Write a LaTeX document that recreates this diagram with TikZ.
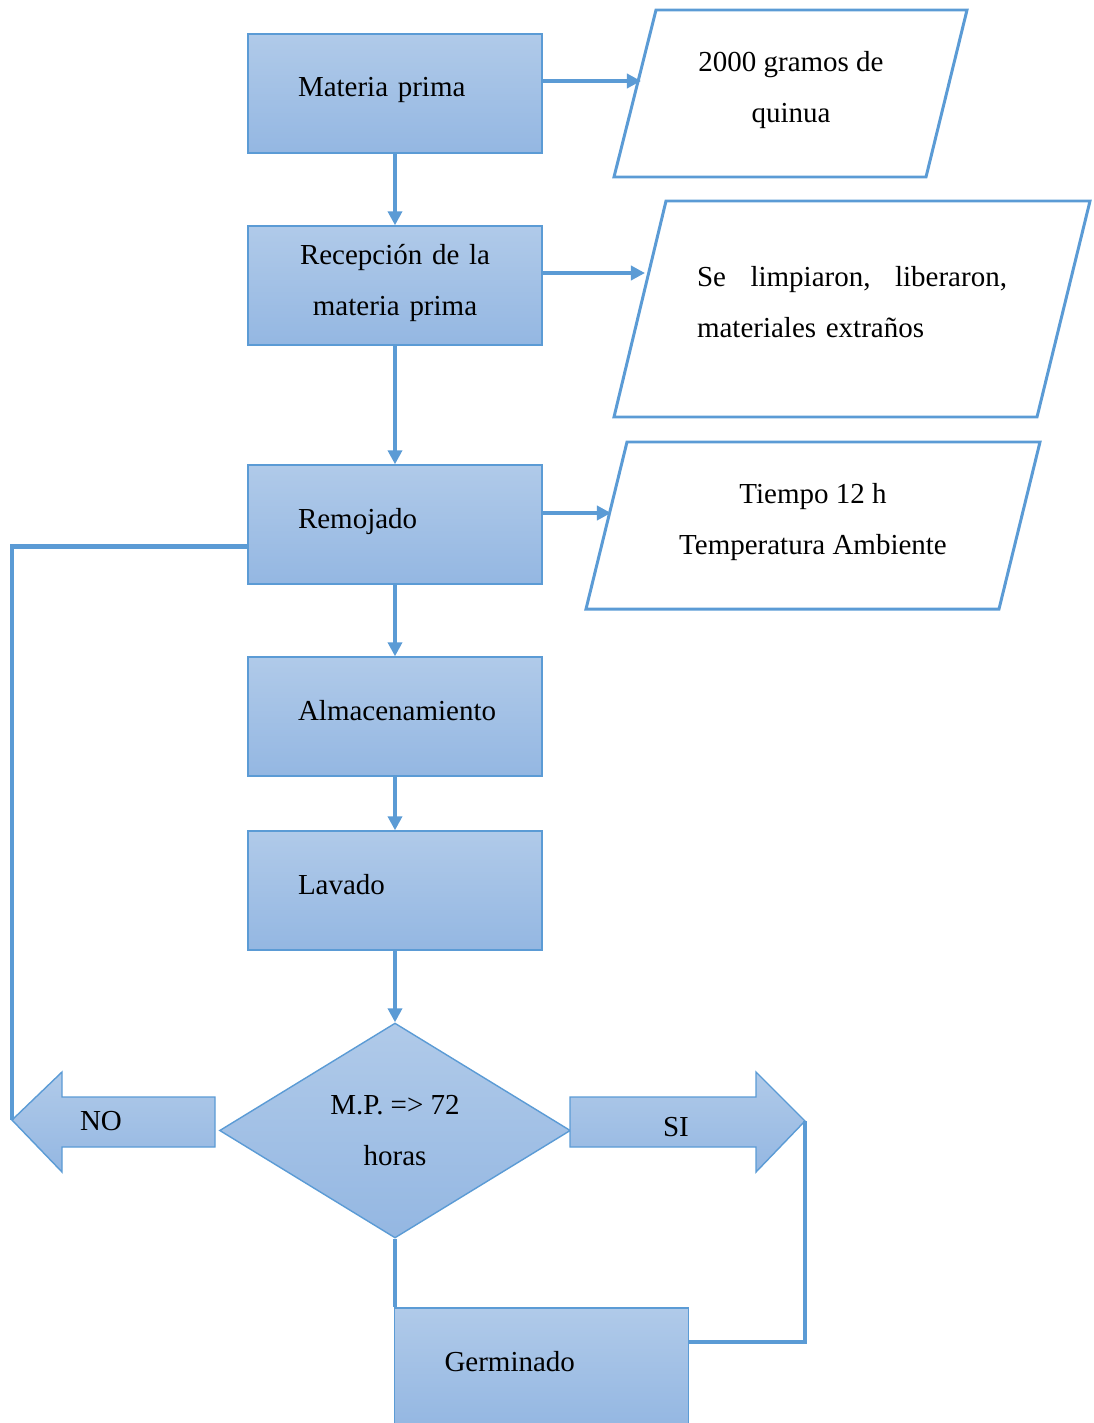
\documentclass[tikz,border=0pt]{standalone}
\usepackage{fontspec}
\setmainfont{Liberation Serif}
\usepackage{xcolor}
\usetikzlibrary{shapes.geometric,arrows.meta,positioning}

\definecolor{linea}{RGB}{91,155,213}
\definecolor{claro}{RGB}{176,202,233}
\definecolor{oscuro}{RGB}{148,183,226}

\begin{document}
\begin{tikzpicture}[x=0.02cm, y=-0.02cm,
    every node/.style={font=\fontsize{16.5}{29}\selectfont},
    caja/.style={rectangle, draw=linea, line width=0.8pt, top color=claro, bottom color=oscuro,
        minimum width=5.88cm, minimum height=2.38cm, inner xsep=1cm, inner ysep=0pt,
        text width=3.88cm, align=left},
    unalinea/.style={text height=0.42cm, text depth=0.28cm},
    conector/.style={draw=linea, line width=2.3pt},
    flecha/.style={conector, -{Triangle[length=8pt,width=8pt]}},
    datos/.style={draw=linea, line width=1.7pt},
    bloque/.style={draw=linea, line width=0.8pt, top color=claro, bottom color=oscuro}]
    \useasboundingbox (0,0) rectangle (1093,1423);

    % cajas del proceso
    \node[caja, unalinea] (materia) at (395,93.5) {Materia prima};
    \node[caja, align=center, text depth=1.26cm] (recepcion) at (395,285.5) {Recepción de la\\materia prima};
    \node[caja, unalinea] (remojado) at (395,524.5) {Remojado};
    \node[caja, unalinea] (almacen) at (395,716.5) {Almacenamiento};
    \node[caja, unalinea] (lavado) at (395,890.5) {Lavado};
    \node[caja, unalinea] (germinado) at (541.5,1367.5) {Germinado};

    % decision
    \node[diamond, draw=linea, line width=0.8pt, top color=claro, bottom color=oscuro,
        minimum width=7.02cm, minimum height=4.3cm, inner sep=0pt, aspect=1.6, align=center]
        (decision) at (395,1130.5) {M.P. => 72\\horas};

    % datos (paralelogramos)
    \draw[datos] (656,10) -- (967,10) -- (926,177) -- (614,177) -- cycle;
    \draw[datos] (666,201) -- (1090,201) -- (1037,417) -- (614,417) -- cycle;
    \draw[datos] (627,442) -- (1040,442) -- (999,609) -- (586,609) -- cycle;
    \node[align=center] (dato1) at (791,90) {2000 gramos de\\quinua};
    \node[text width=6.2cm, align=left, inner sep=0pt] (dato2) at (852,302)
        {Se\hfill limpiaron,\hfill liberaron,\\materiales extraños};
    \node[align=center] (dato3) at (813,522) {Tiempo 12 h\\Temperatura Ambiente};
    \coordinate (entrada1) at (641,81);
    \coordinate (entrada2) at (645,273);
    \coordinate (entrada3) at (611,513);

    % flechas NO y SI
    \path[bloque] (12,1120) -- (62,1072) -- (62,1097) -- (215,1097) -- (215,1147)
        -- (62,1147) -- (62,1172) -- cycle;
    \path[bloque] (570,1097) -- (756,1097) -- (756,1072) -- (805,1121) -- (756,1172)
        -- (756,1147) -- (570,1147) -- cycle;
    \node (no) at (101,1121) {NO};
    \node (si) at (676,1127) {SI};
    \coordinate (puntano) at (12,1120);
    \coordinate (puntasi) at (805,1121);

    % conectores
    \draw[flecha] (materia) -- (recepcion);
    \draw[flecha] (recepcion) -- (remojado);
    \draw[flecha] (remojado) -- (almacen);
    \draw[flecha] (almacen) -- (lavado);
    \draw[flecha] (lavado) -- (decision);
    \draw[flecha] (materia.east |- entrada1) -- (entrada1);
    \draw[flecha] (recepcion.east |- entrada2) -- (entrada2);
    \draw[flecha] (remojado.east |- entrada3) -- (entrada3);
    \draw[conector] ([yshift=-0.44cm]remojado.west) -| (puntano);
    \draw[conector] (decision.south) -- (decision.south |- germinado.north);
    \draw[conector] (puntasi) |- ([yshift=0.51cm]germinado.east);
\end{tikzpicture}
\end{document}
